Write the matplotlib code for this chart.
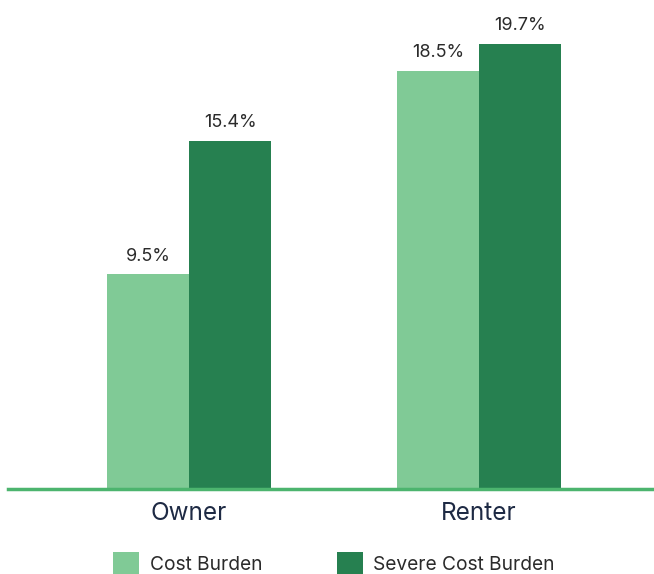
import numpy as np
import matplotlib
matplotlib.use("Agg")
from matplotlib import pyplot as plt

categories = ['Owner', 'Renter']
cost_burden = [9.5, 18.5]
severe_cost_burden = [15.4, 19.7]
series_labels = ['Cost Burden', 'Severe Cost Burden']

light_green = '#80CA96'
dark_green = '#268050'
axis_green = '#4CB46E'

plt.rcParams['font.family'] = ['Inter', 'DejaVu Sans']

fig = plt.figure(figsize=(6.54, 5.74), dpi=100)
ax = fig.add_axes([8 / 654, 85 / 574, 646 / 654, 0.8265])

x = np.arange(len(categories))
width = 0.284

bars1 = ax.bar(x - width / 2, cost_burden, width, color=light_green, label=series_labels[0])
bars2 = ax.bar(x + width / 2, severe_cost_burden, width, color=dark_green, label=series_labels[1])

for bars in (bars1, bars2):
    ax.bar_label(bars, labels=[f'{v}%' for v in bars.datavalues], padding=7,
                 fontsize=13, color='#2b2b2b')

ax.set_xlim(-0.624, 1.603)
ax.set_ylim(0, 21)

for side in ('top', 'right', 'left'):
    ax.spines[side].set_visible(False)
ax.spines['bottom'].set_color(axis_green)
ax.spines['bottom'].set_linewidth(2.5)

ax.set_yticks([])
ax.set_xticks(x)
ax.set_xticklabels(categories, fontsize=17.5, color='#1E2A44')
ax.tick_params(axis='x', length=0, pad=9)

fig.legend(loc='lower center', bbox_to_anchor=(0.511, -0.03), ncol=2, frameon=False,
           fontsize=13.8, handlelength=1.35, handleheight=1.35, columnspacing=3.9,
           handletextpad=0.55, labelcolor='#2b2b2b')

fig.savefig('out.png', dpi=100)
